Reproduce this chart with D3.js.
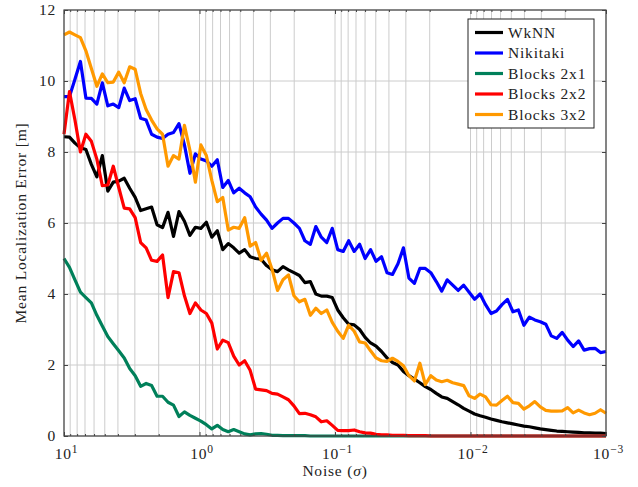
<!DOCTYPE html>
<html>
<head>
<meta charset="utf-8">
<script src="https://cdn.jsdelivr.net/npm/d3@7"></script>
<style>
  body { margin: 0; background: #fff; }
  svg text { font-family: "Liberation Serif", "DejaVu Serif", serif; fill: #222; }
</style>
</head>
<body>
<div id="chart"></div>
<script>
// Noise levels: 100 log-spaced steps from 10^1 down to 10^-3
const noiseCount = 100;
const noise = d3.range(noiseCount).map(i => Math.pow(10, 1 - 4 * i / (noiseCount - 1)));

const seriesNames = ['WkNN', 'Nikitaki', 'Blocks 2x1', 'Blocks 2x2', 'Blocks 3x2'];
const seriesColors = ['#000000', '#0000ff', '#00805a', '#ff0000', '#ff9900'];

const wknn = [8.43, 8.42, 8.25, 8.12, 8.07, 7.65, 7.3, 7.9, 6.9, 7.15,
  7.18, 7.26, 6.98, 6.72, 6.35, 6.4, 6.45, 5.95, 5.87, 6.3,
  5.62, 6.32, 6.05, 5.65, 5.88, 5.85, 6.02, 5.6, 5.78, 5.25,
  5.42, 5.3, 5.15, 5.25, 5.05, 5.0, 4.98, 4.8, 4.68, 4.63,
  4.77, 4.68, 4.6, 4.52, 4.32, 4.35, 4.0, 3.94, 3.94, 3.9,
  3.55, 3.33, 3.15, 3.13, 3.0, 2.78, 2.62, 2.53, 2.38, 2.2,
  2.07, 2.0, 1.82, 1.7, 1.6, 1.5, 1.39, 1.31, 1.2, 1.1,
  1.06, 0.97, 0.88, 0.78, 0.7, 0.62, 0.57, 0.53, 0.48, 0.44,
  0.4, 0.37, 0.34, 0.31, 0.28, 0.26, 0.23, 0.2, 0.18, 0.16,
  0.14, 0.13, 0.12, 0.11, 0.1, 0.09, 0.09, 0.08, 0.08, 0.07];

const nikitaki = [9.56, 9.56, 10.05, 10.55, 9.52, 9.51, 9.35, 9.95, 9.3, 9.35,
  9.25, 9.8, 9.45, 9.5, 8.95, 8.9, 8.5, 8.42, 8.38, 8.5,
  8.55, 8.8, 8.2, 7.4, 7.95, 7.8, 7.75, 7.6, 7.78, 7.0,
  7.2, 6.85, 6.98, 6.85, 6.74, 6.45, 6.25, 6.08, 5.85, 6.0,
  6.13, 6.13, 6.0, 5.85, 5.5, 5.4, 5.9, 5.6, 5.45, 5.85,
  5.25, 5.2, 5.5, 5.2, 5.4, 5.0, 5.25, 4.92, 5.05, 4.6,
  4.55, 4.85, 5.3, 4.45, 4.3, 4.72, 4.72, 4.6, 4.35, 4.08,
  4.4, 4.25, 4.1, 4.25, 4.05, 3.85, 4.0, 3.7, 3.45, 3.52,
  3.7, 3.85, 3.5, 3.55, 3.12, 3.35, 3.27, 3.22, 3.15, 2.82,
  2.75, 2.92, 2.7, 2.52, 2.68, 2.42, 2.46, 2.47, 2.35, 2.38];

const blocks2x1 = [5.0, 4.75, 4.4, 4.05, 3.9, 3.75, 3.4, 3.1, 2.8, 2.6,
  2.4, 2.2, 1.9, 1.7, 1.4, 1.48, 1.42, 1.12, 1.12, 0.95,
  0.87, 0.55, 0.68, 0.58, 0.5, 0.42, 0.32, 0.2, 0.3, 0.18,
  0.12, 0.18, 0.12, 0.06, 0.03, 0.06, 0.07, 0.05, 0.02, 0.02,
  0.01, 0.01, 0.01, 0.01, 0.01, 0, 0, 0, 0, 0,
  0, 0, 0, 0, 0, 0, 0, 0, 0, 0,
  0, 0, 0, 0, 0, 0, 0, 0, 0, 0,
  0, 0, 0, 0, 0, 0, 0, 0, 0, 0,
  0, 0, 0, 0, 0, 0, 0, 0, 0, 0,
  0, 0, 0, 0, 0, 0, 0, 0, 0, 0];

const blocks2x2 = [8.5, 9.7, 8.9, 8.0, 8.5, 8.3, 7.8, 7.05, 7.07, 7.6,
  7.0, 6.42, 6.4, 6.15, 5.45, 5.3, 4.95, 4.92, 5.1, 3.9,
  4.63, 4.6, 3.95, 3.45, 3.75, 3.55, 3.45, 3.18, 2.45, 2.7,
  2.63, 2.25, 2.0, 2.12, 1.85, 1.32, 1.3, 1.28, 1.2, 1.18,
  1.1, 1.02, 0.85, 0.63, 0.64, 0.6, 0.54, 0.4, 0.43, 0.3,
  0.16, 0.15, 0.15, 0.17, 0.12, 0.09, 0.08, 0.05, 0.03, 0.03,
  0.02, 0.02, 0.02, 0.01, 0.01, 0.01, 0.01, 0, 0, 0,
  0, 0, 0, 0, 0, 0, 0, 0, 0, 0,
  0, 0, 0, 0, 0, 0, 0, 0, 0, 0,
  0, 0, 0, 0, 0, 0, 0, 0, 0, 0];

const blocks3x2 = [11.3, 11.38, 11.3, 11.22, 10.85, 10.35, 9.85, 10.2, 9.95, 9.97,
  10.25, 9.95, 10.4, 10.33, 9.65, 9.2, 8.9, 8.65, 8.5, 7.6,
  7.9, 7.8, 8.75, 8.05, 7.15, 8.2, 7.9, 7.2, 6.6, 6.72,
  5.8, 5.88, 5.85, 6.15, 5.35, 5.45, 4.95, 5.15, 4.7, 4.1,
  4.4, 4.54, 3.95, 3.78, 3.85, 3.4, 3.6, 3.45, 3.55, 3.2,
  2.95, 2.75, 3.12, 2.95, 2.65, 2.62, 2.4, 2.2, 2.12, 2.1,
  2.19, 2.1, 1.98, 1.7, 1.55, 2.05, 1.45, 1.7, 1.58, 1.53,
  1.57, 1.5, 1.46, 1.42, 1.13, 1.06, 1.18, 1.1, 0.88, 0.87,
  1.0, 1.12, 0.94, 0.92, 0.76, 0.85, 0.97, 0.82, 0.72, 0.7,
  0.7, 0.71, 0.8, 0.65, 0.73, 0.65, 0.6, 0.64, 0.74, 0.64];

const seriesValues = [wknn, nikitaki, blocks2x1, blocks2x2, blocks3x2];

const yTicks = [0, 2, 4, 6, 8, 10, 12];
const xMajorTicks = [10, 1, 0.1, 0.01, 0.001];
const xTickExponents = ['1', '0', '\u22121', '\u22122', '\u22123'];

const width = 638, height = 487;
const margin = { top: 10, right: 32, bottom: 51, left: 64 };
const innerW = width - margin.left - margin.right;
const innerH = height - margin.top - margin.bottom;
const fontSize = 15.5;
const letterSpacing = 0.8;

const svg = d3.select('#chart').append('svg')
  .attr('width', width)
  .attr('height', height);

const g = svg.append('g')
  .attr('transform', `translate(${margin.left},${margin.top})`);

const x = d3.scaleLog().domain([10, 0.001]).range([0, innerW]);
const y = d3.scaleLinear().domain([0, 12]).range([innerH, 0]);

// minor log ticks (2..9 x 10^k)
const xMinorTicks = [];
[-3, -2, -1, 0].forEach(e => {
  for (let k = 2; k <= 9; k++) xMinorTicks.push(k * Math.pow(10, e));
});

// Grid lines
const gridColor = '#cccccc';
g.append('g')
  .attr('class', 'grid-x')
  .selectAll('line')
  .data(xMinorTicks.concat(xMajorTicks))
  .join('line')
  .attr('x1', d => x(d)).attr('x2', d => x(d))
  .attr('y1', 0).attr('y2', innerH)
  .attr('stroke', gridColor)
  .attr('stroke-width', 1);

g.append('g')
  .attr('class', 'grid-y')
  .selectAll('line')
  .data(yTicks)
  .join('line')
  .attr('x1', 0).attr('x2', innerW)
  .attr('y1', d => y(d)).attr('y2', d => y(d))
  .attr('stroke', gridColor)
  .attr('stroke-width', 1);

// Series lines
const line = d3.line()
  .x((d, i) => x(noise[i]))
  .y(d => y(d));

g.append('g')
  .attr('class', 'series')
  .selectAll('path')
  .data(seriesValues)
  .join('path')
  .attr('d', d => line(d))
  .attr('fill', 'none')
  .attr('stroke', (d, i) => seriesColors[i])
  .attr('stroke-width', 3.2)
  .attr('stroke-linejoin', 'round');

// Axes (inward ticks on all four sides)
const axisColor = '#444';

const yAxis = g.append('g')
  .call(d3.axisLeft(y).tickValues(yTicks).tickSizeInner(-4).tickSizeOuter(0).tickPadding(8));
g.append('g')
  .attr('transform', `translate(${innerW},0)`)
  .call(d3.axisRight(y).tickValues(yTicks).tickSizeInner(-4).tickSizeOuter(0).tickFormat(''));

const xAxis = g.append('g')
  .attr('transform', `translate(0,${innerH})`)
  .call(d3.axisBottom(x).tickValues(xMajorTicks).tickSizeInner(-4).tickSizeOuter(0).tickFormat(''));
g.append('g')
  .call(d3.axisTop(x).tickValues(xMajorTicks).tickSizeInner(-4).tickSizeOuter(0).tickFormat(''));

g.append('g')
  .attr('transform', `translate(0,${innerH})`)
  .call(d3.axisBottom(x).tickValues(xMinorTicks).tickSizeInner(-2).tickSizeOuter(0).tickFormat(''));
g.append('g')
  .call(d3.axisTop(x).tickValues(xMinorTicks).tickSizeInner(-2).tickSizeOuter(0).tickFormat(''));

g.selectAll('.domain').remove();
g.selectAll('.tick line').attr('stroke', axisColor);

yAxis.selectAll('text')
  .attr('font-size', fontSize)
  .attr('letter-spacing', letterSpacing)
  .attr('font-family', '"Liberation Serif", serif')
  .attr('fill', '#222');

// 10^k labels
xAxis.selectAll('.tick').each(function(d, i) {
  const t = d3.select(this).append('text')
    .attr('y', 23)
    .attr('x', 2)
    .attr('text-anchor', 'middle')
    .attr('font-size', fontSize)
    .attr('letter-spacing', letterSpacing)
    .attr('fill', '#222');
  t.append('tspan').text('10');
  t.append('tspan')
    .attr('dy', -6)
    .attr('font-size', 11.5)
    .text(xTickExponents[i]);
});

// Box
g.append('rect')
  .attr('width', innerW)
  .attr('height', innerH)
  .attr('fill', 'none')
  .attr('stroke', axisColor)
  .attr('stroke-width', 1.2);

// Axis titles
const xTitle = svg.append('text')
  .attr('x', margin.left + innerW / 2)
  .attr('y', 476)
  .attr('text-anchor', 'middle')
  .attr('font-size', fontSize)
  .attr('letter-spacing', letterSpacing);
xTitle.append('tspan').text('Noise (');
xTitle.append('tspan').attr('font-style', 'italic').text('\u03c3');
xTitle.append('tspan').text(')');

svg.append('text')
  .attr('transform', `translate(26,${margin.top + innerH / 2}) rotate(-90)`)
  .attr('text-anchor', 'middle')
  .attr('font-size', fontSize)
  .attr('letter-spacing', letterSpacing)
  .text('Mean Localization Error [m]');

// Legend
const legend = svg.append('g')
  .attr('transform', 'translate(468,19)');

legend.append('rect')
  .attr('width', 126)
  .attr('height', 109)
  .attr('fill', '#fff')
  .attr('stroke', '#222')
  .attr('stroke-width', 1);

const items = legend.selectAll('.legend-item')
  .data(seriesNames)
  .join('g')
  .attr('class', 'legend-item')
  .attr('transform', (d, i) => `translate(0,${13.5 + i * 20.5})`);

items.append('line')
  .attr('x1', 7).attr('x2', 35)
  .attr('y1', 0).attr('y2', 0)
  .attr('stroke', (d, i) => seriesColors[i])
  .attr('stroke-width', 3.2);

items.append('text')
  .attr('x', 40)
  .attr('y', 5)
  .attr('font-size', fontSize)
  .attr('letter-spacing', letterSpacing)
  .text(d => d);
</script>
</body>
</html>
